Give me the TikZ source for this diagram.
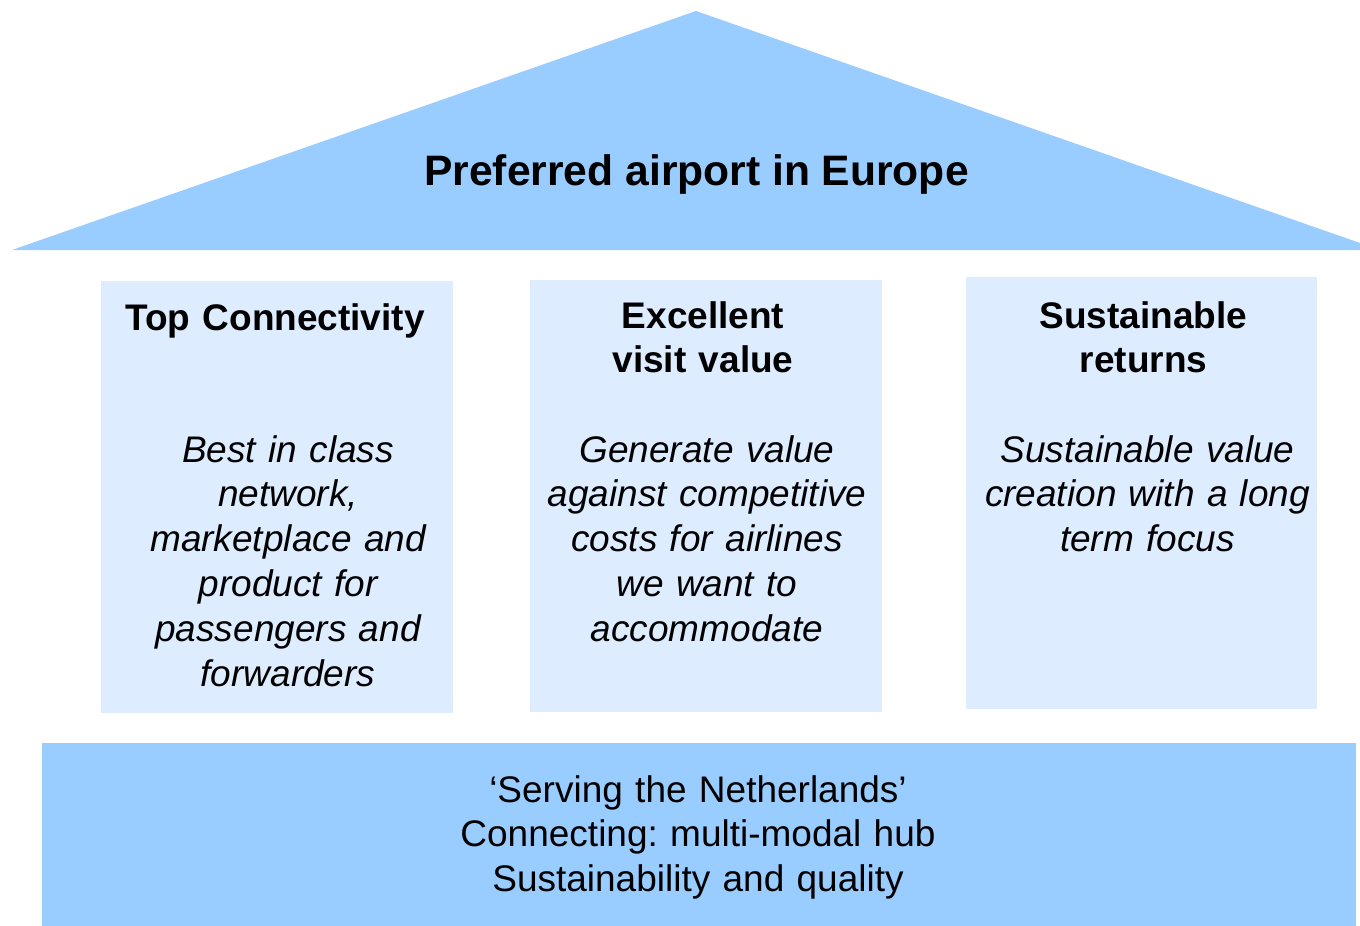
\documentclass[tikz,border=0pt]{standalone}
\usepackage{fontspec}
\setmainfont{Liberation Sans}
\frenchspacing
\definecolor{roofblue}{RGB}{153,204,255}
\definecolor{pillarblue}{RGB}{221,237,255}
\begin{document}
\begin{tikzpicture}[x=1pt,y=-1pt,
  pillar/.style={fill=pillarblue, inner sep=0pt, minimum width=352pt, minimum height=432pt},
  txt/.style={anchor=base, inner sep=0pt, text width=440pt, align=center,
              font=\fontsize{37}{44.8}\selectfont},
  head/.style={txt, font=\fontsize{37}{44.3}\selectfont\bfseries},
  body/.style={txt, font=\fontsize{37}{44.8}\selectfont\itshape}]
\clip (0,0) rectangle (1360,926);
% roof
\fill[roofblue] (12,250) -- (696,11) -- (1380,250) -- cycle;
\node[anchor=base, inner sep=0pt, font=\fontsize{42.6}{50}\selectfont\bfseries]
  (title) at (696.5,185) {Preferred airport in Europe};
% pillars
\node[pillar] (p1) at (277,497) {};
\node[pillar] (p2) at (706,496) {};
\node[pillar, minimum width=351pt] (p3) at (1141.5,493) {};
% pillar texts
\node[head] (h1) at (275,330) {Top Connectivity};
\node[head] (h2) at (703,328) {Excellent\\visit value};
\node[head] (h3) at (1143.5,328) {Sustainable\\returns};
\node[body] (b1) at (288,462) {Best in class\\network,\\marketplace and\\product for\\passengers and\\forwarders};
\node[body] (b2) at (707,462) {Generate value\\against competitive\\costs for airlines\\we want to\\accommodate};
\node[body] (b3) at (1147.5,462) {Sustainable value\\creation with a long\\term focus};
% foundation
\fill[roofblue] (42,743) rectangle (1356,940);
\node[txt, text width=900pt, font=\fontsize{37}{44.5}\selectfont] (base) at (698,802)
  {‘Serving the Netherlands’\\Connecting: multi-modal hub\\Sustainability and quality};
\end{tikzpicture}
\end{document}
